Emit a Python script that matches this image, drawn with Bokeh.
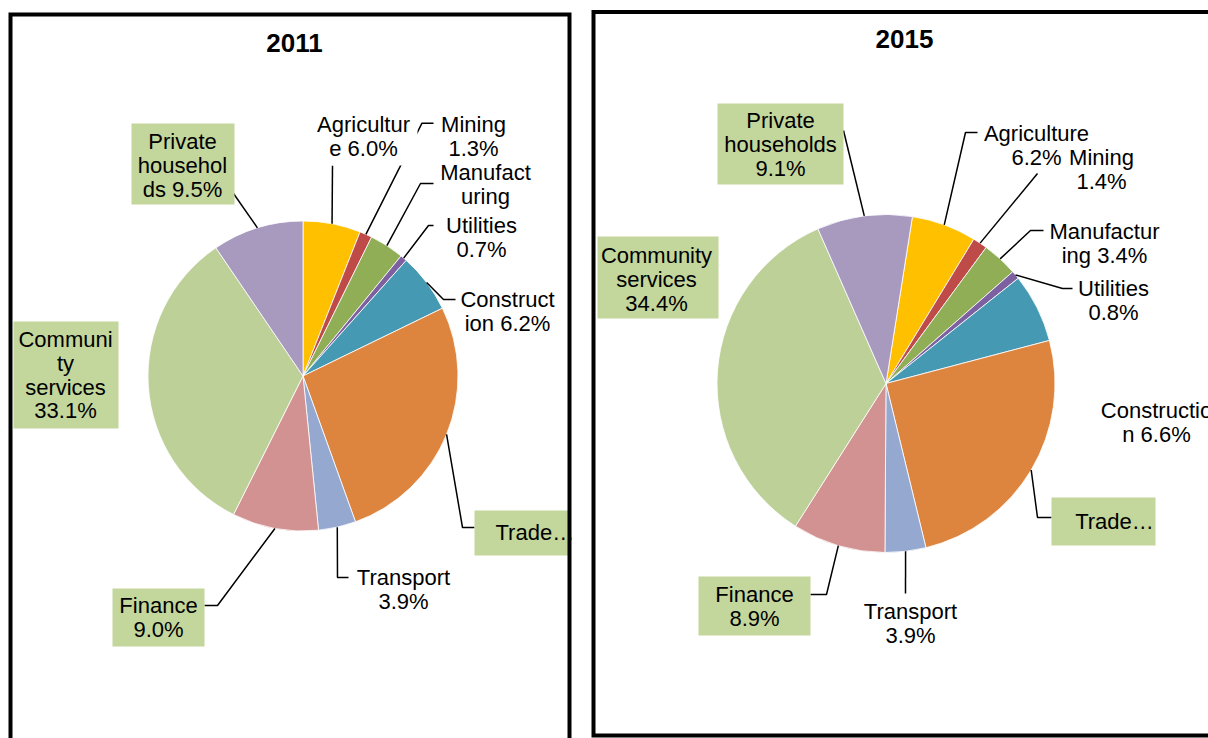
import math
from bokeh.plotting import figure
from bokeh.models import Range1d, ColumnDataSource
from bokeh.core.properties import value
from bokeh.embed import file_html
from bokeh.resources import INLINE

# ---------------- data ----------------
sectors = ["Agriculture", "Mining", "Manufacturing", "Utilities", "Construction",
           "Trade", "Transport", "Finance", "Community services", "Private households"]
share_2011 = [6.0, 1.3, 3.6, 0.7, 6.2, 26.7, 3.9, 9.0, 33.1, 9.5]
share_2015 = [6.2, 1.4, 3.4, 0.8, 6.6, 25.3, 3.9, 8.9, 34.4, 9.1]
years = ["2011", "2015"]

# wrapped data-label lines as the chart shows them ({v} = the share)
labels_2011 = [["Agricultur", "e {v}"], ["Mining", "{v}"], ["Manufact", "uring"],
               ["Utilities", "{v}"], ["Construct", "ion {v}"], ["Trade…"],
               ["Transport", "{v}"], ["Finance", "{v}"],
               ["Communi", "ty", "services", "{v}"], ["Private", "househol", "ds {v}"]]
labels_2015 = [["Agriculture", "{v}"], ["Mining", "{v}"], ["Manufactur", "ing {v}"],
               ["Utilities", "{v}"], ["Constructio", "n {v}"], ["Trade…"],
               ["Transport", "{v}"], ["Finance", "{v}"],
               ["Community", "services", "{v}"], ["Private", "households", "{v}"]]

# ---------------- style ----------------
slice_colors = ["#FFC000", "#BE4B48", "#8FAE55", "#7D60A0", "#4599B3",
                "#DD843E", "#95A9D0", "#D29292", "#BCD097", "#A899BF"]
BOX_GREEN = "#C3D69B"
FONT = "Liberation Sans"
LABEL_SIZE = "22px"
TITLE_SIZE = "26px"
LINE_STEP = 23.8

W, H = 1208, 738
def D(px, py):
    """page pixel -> data coordinate"""
    return px, H - py

# layout per panel (page pixel coordinates)
layout = {
    "2011": dict(
        center=(302.5, 375.5), r=155, offset=0.0, title=(294, 42),
        border=[(10, 760), (10, 14), (569, 14), (569, 760)],
        labels=[
            dict(cx=363, y=124, path=[(332, 165)], box=(310, 417, 110, 165), fill="white"),
            dict(cx=473, y=124, path=[(421.5, 122.7), (433, 122.7)]),
            dict(cx=485, y=172, path=[(420, 183), (433, 183)]),
            dict(cx=481, y=225, path=[(428, 225), (433, 225)]),
            dict(cx=507, y=299, path=[(443, 299), (455, 299)]),
            dict(cx=495, y=532, align="left", path=[(462, 527), (474, 527)],
                 box=(474, 569, 510, 555), fill=BOX_GREEN),
            dict(cx=403, y=577, path=[(337, 577), (348, 577)]),
            dict(cx=158, y=605, path=[(217, 605), (204, 605)],
                 box=(112, 204, 588, 646), fill=BOX_GREEN),
            dict(cx=65, y=339, path=None, box=(13, 118, 321, 428), fill=BOX_GREEN),
            dict(cx=182, y=141, path=[(233, 193)], box=(131, 234, 123, 204), fill=BOX_GREEN),
        ]),
    "2015": dict(
        center=(885.5, 383), r=169, offset=9.0, title=(904, 38),
        border=[(1230, 735), (593, 735), (593, 11.5), (1230, 11.5)],
        labels=[
            dict(cx=1036, y=133, path=[(965, 132), (977, 132)]),
            dict(cx=1101, y=157, path=[(1037, 173)]),
            dict(cx=1104, y=231, path=[(1030, 230), (1043, 230)]),
            dict(cx=1113, y=288, path=[(1062, 288), (1072, 288)]),
            dict(cx=1156, y=410, path=None),
            dict(cx=1114, y=521, path=[(1037, 517), (1051, 517)],
                 box=(1051, 1155, 497, 545), fill=BOX_GREEN),
            dict(cx=910, y=611, path=[(905, 593)]),
            dict(cx=754, y=594, path=[(826, 594), (810, 594)],
                 box=(698, 810, 576, 635), fill=BOX_GREEN),
            dict(cx=656, y=255, path=None, box=(597, 718, 236, 318), fill=BOX_GREEN),
            dict(cx=780, y=120, path=[(843, 130)], box=(717, 843, 103, 184), fill=BOX_GREEN),
        ]),
}

p = figure(width=W, height=H, x_range=Range1d(0, W), y_range=Range1d(0, H),
           output_backend="svg", toolbar_location=None, min_border=0,
           background_fill_color="white", border_fill_color="white")
p.axis.visible = False
p.grid.visible = False
p.outline_line_color = None

for year, shares, lab_lines in zip(years, [share_2011, share_2015], [labels_2011, labels_2015]):
    L = layout[year]
    cxp, cyp = L["center"]
    r = L["r"]
    off = math.radians(L["offset"])
    total = sum(shares)
    starts, ends, mids = [], [], []
    acc = 0.0
    for v in shares:
        a0 = off + 2 * math.pi * acc / total
        acc += v
        a1 = off + 2 * math.pi * acc / total
        starts.append(math.pi / 2 - a0)
        ends.append(math.pi / 2 - a1)
        mids.append((a0 + a1) / 2)
    cx, cy = D(cxp, cyp)
    src = ColumnDataSource(dict(x=[cx] * len(shares), y=[cy] * len(shares),
                                start=starts, end=ends, color=slice_colors,
                                sector=sectors, share=shares))
    p.wedge(x="x", y="y", radius=r, start_angle="start", end_angle="end",
            direction="clock", fill_color="color", line_color="white",
            line_width=0.8, source=src)

    # leader lines
    lx, ly = [], []
    for m, lab in zip(mids, L["labels"]):
        if not lab.get("path"):
            continue
        ex = cxp + r * math.sin(m)
        ey = cyp - r * math.cos(m)
        pts = [(ex, ey)] + lab["path"]
        dd = [D(a, b) for a, b in pts]
        lx.append([q[0] for q in dd])
        ly.append([q[1] for q in dd])
    p.multi_line(xs=lx, ys=ly, line_color="black", line_width=1.5)

    # label boxes
    bl, br, bt, bb, bc = [], [], [], [], []
    for lab in L["labels"]:
        if lab.get("box"):
            x0, x1, y0, y1 = lab["box"]
            bl.append(D(x0, 0)[0]); br.append(D(x1, 0)[0])
            bt.append(D(0, y0)[1]); bb.append(D(0, y1)[1])
            bc.append(lab["fill"])
    p.quad(left=bl, right=br, top=bt, bottom=bb, fill_color=bc, line_color=None)

    # label texts
    for v, lines, lab in zip(shares, lab_lines, L["labels"]):
        vs = f"{v:.1f}%"
        txt = [s.replace("{v}", vs) for s in lines]
        xs = [D(lab["cx"], 0)[0]] * len(txt)
        ys = [D(0, lab["y"] + i * LINE_STEP)[1] for i in range(len(txt))]
        p.text(x=xs, y=ys, text=txt, text_font=value(FONT), text_font_size=LABEL_SIZE,
               text_color="black", text_align=lab.get("align", "center"),
               text_baseline="middle")

    # title
    tx, ty = D(*L["title"])
    p.text(x=[tx], y=[ty], text=[year], text_font=value(FONT), text_font_size=TITLE_SIZE,
           text_font_style="bold", text_color="black", text_align="center",
           text_baseline="middle")

    # panel frame
    bpts = [D(a, b) for a, b in L["border"]]
    p.line(x=[q[0] for q in bpts], y=[q[1] for q in bpts], line_color="black",
           line_width=4, line_join="miter")

open("out.html", "w").write(file_html(p, INLINE))
